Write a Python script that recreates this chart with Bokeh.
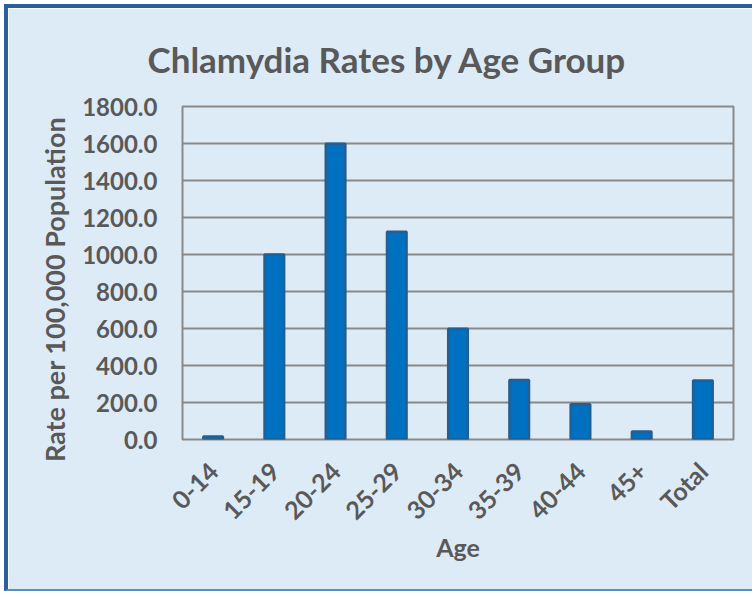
import math
from bokeh.plotting import figure
from bokeh.models import FixedTicker, NumeralTickFormatter, Range1d
from bokeh.embed import file_html
from bokeh.resources import INLINE

categories = ["0-14", "15-19", "20-24", "25-29", "30-34", "35-39", "40-44", "45+", "Total"]
rates = [16, 1000, 1598, 1123, 598, 322, 191, 43, 319]
y_ticks = [0, 200, 400, 600, 800, 1000, 1200, 1400, 1600, 1800]

TEXT = "#595959"
GRID = "#898989"
BG = "#DDEBF7"
FONT = "Lato"

n = len(categories)
positions = list(range(n))

p = figure(x_range=Range1d(-0.5, n - 0.5), y_range=(0, 1800), width=748, height=587,
           output_backend="svg", toolbar_location=None,
           min_border_left=174, min_border_right=23, min_border_top=97, min_border_bottom=156,
           background_fill_color=BG, border_fill_color=BG,
           styles={"margin-left": "4px", "margin-top": "4px",
                   "border-top": "4px solid #2B5E9C", "border-left": "4px solid #2B5E9C",
                   "border-bottom": "2px solid #5B8EC4"})

p.vbar(x=positions, top=rates, width=0.32, bottom=0,
       fill_color="#0070C0", line_color="#255E91", line_width=2.5)

p.title.text = "Chlamydia Rates by Age Group"
p.title.align = "left"
p.title.offset = -35
p.title.standoff = 54
p.title.text_font = FONT
p.title.text_font_style = "bold"
p.title.text_font_size = "35px"
p.title.text_color = TEXT

p.outline_line_color = GRID
p.outline_line_width = 2
p.xgrid.grid_line_color = None
p.ygrid.grid_line_color = GRID
p.ygrid.grid_line_width = 2

p.xaxis.ticker = FixedTicker(ticks=positions)
p.xaxis.major_label_overrides = {i: c for i, c in enumerate(categories)}
p.yaxis.ticker = FixedTicker(ticks=y_ticks)
p.yaxis.formatter = NumeralTickFormatter(format="0.0")

for ax in (p.xaxis[0], p.yaxis[0]):
    ax.axis_line_color = None
    ax.major_tick_line_color = None
    ax.minor_tick_line_color = None
    ax.major_tick_out = 0
    ax.major_tick_in = 0
    ax.minor_tick_out = 0
    ax.major_label_text_color = TEXT
    ax.major_label_text_font = FONT
    ax.major_label_text_font_style = "bold"
    ax.axis_label_text_color = TEXT
    ax.axis_label_text_font = FONT
    ax.axis_label_text_font_style = "bold"

p.yaxis.major_label_text_font_size = "24px"
p.yaxis.major_label_standoff = 25
p.yaxis.axis_label = "Rate per 100,000 Population" + "\u00a0" * 5
p.yaxis.axis_label_text_font_size = "27px"
p.yaxis.axis_label_standoff = 8

p.xaxis.major_label_text_font_size = "25px"
p.xaxis.major_label_standoff = 27
p.xaxis.major_label_orientation = math.pi / 4
p.xaxis.axis_label = "Age"
p.xaxis.axis_label_text_font_size = "25px"
p.xaxis.axis_label_standoff = -6

open("out.html", "w").write(file_html(p, INLINE))
